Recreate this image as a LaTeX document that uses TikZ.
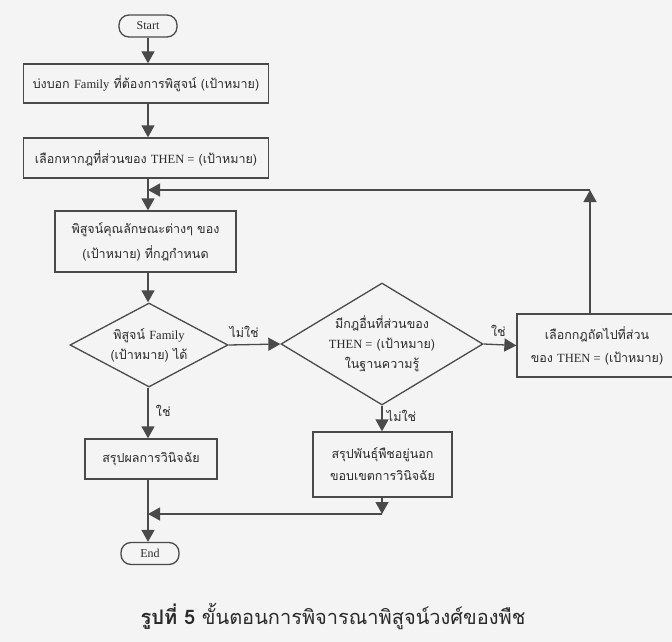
\documentclass[tikz,border=0pt]{standalone}
\usepackage{fontspec}
\setmainfont{Liberation Serif}
\newfontfamily\thai[Script=Thai]{Loma}
\newfontfamily\lat{Liberation Serif}
\usetikzlibrary{arrows.meta,shapes.geometric}
\definecolor{ink}{HTML}{4A4A4A}
\definecolor{txt}{HTML}{2A2A2A}
\definecolor{paper}{HTML}{F4F4F4}
\begin{document}
\begin{tikzpicture}[x=1pt,y=-1pt,
  line width=1.3pt,
  boxnode/.style={draw=ink,rectangle,inner sep=0pt,align=center,text=txt,font=\thai\fontsize{12.5}{23}\selectfont},
  termnode/.style={draw=ink,rounded corners=10pt,inner sep=0pt,minimum width=58pt,minimum height=22pt,text=txt,font=\lat\fontsize{12}{14}\selectfont},
  decnode/.style={draw=ink,diamond,inner sep=0pt},
  dectext/.style={align=center,text=txt,font=\thai\fontsize{12.5}{20}\selectfont},
  arr/.style={draw=ink,-{Triangle[length=12pt,width=13pt]}},
  lbl/.style={text=txt,font=\thai\fontsize{12.5}{14}\selectfont}]
\useasboundingbox (0,0) rectangle (672,642);
\fill[paper] (0,0) rectangle (672,642);
\clip (0,0) rectangle (672,642);

\node[termnode] (start) at (148,26) {Start};
\node[boxnode,minimum width=245pt,minimum height=39pt] (b1) at (146,83.5) {บ่งบอก {\lat Family} ที่ต้องการพิสูจน์ (เป้าหมาย)};
\node[boxnode,minimum width=245pt,minimum height=40pt] (b2) at (146,158) {เลือกหากฎที่ส่วนของ {\lat THEN =} (เป้าหมาย)};
\node[boxnode,minimum width=181pt,minimum height=61pt,font=\thai\fontsize{12.5}{25}\selectfont] (b3) at (145.5,241.5) {พิสูจน์คุณลักษณะต่างๆ ของ\\(เป้าหมาย) ที่กฎกำหนด};
\node[decnode,minimum width=158pt,minimum height=84pt,label={[dectext]center:พิสูจน์ {\lat Family}\\(เป้าหมาย) ได้}] (d1) at (149,345) {};
\node[decnode,minimum width=202pt,minimum height=122pt,label={[dectext]center:มีกฎอื่นที่ส่วนของ\\{\lat THEN =} (เป้าหมาย)\\ในฐานความรู้}] (d2) at (382,344) {};
\node[boxnode,minimum width=160pt,minimum height=63pt] (b4) at (597,345.5) {เลือกกฎถัดไปที่ส่วน\\ของ {\lat THEN =} (เป้าหมาย)};
\node[boxnode,minimum width=139pt,minimum height=65pt,font=\thai\fontsize{12.5}{22}\selectfont] (b5) at (382.5,464.5) {สรุปพันธุ์พืชอยู่นอก\\ขอบเขตการวินิจฉัย};
\node[boxnode,minimum width=132pt,minimum height=40pt] (b6) at (151,459) {สรุปผลการวินิจฉัย};
\node[termnode] (end) at (150,553.5) {End};

\coordinate (m1) at (148,190);
\coordinate (loopc) at (590,190);
\coordinate (m2) at (148,514);
\coordinate (c5) at (382,514);

\draw[arr] (start.south -| 148,0) -- (b1.north -| 148,0);
\draw[arr] (b1.south -| 148,0) -- (b2.north -| 148,0);
\draw[arr] (b2.south -| 148,0) -- (b3.north -| 148,0);
\draw[arr] (b3.south -| 148,0) -- (d1.north -| 148,0);
\draw[arr] (d1.east) -- node[lbl,above=3pt,pos=0.3] {ไม่ใช่} (d2.west);
\draw[arr] (d2.east) -- node[lbl,above=4pt,pos=0.45] {ใช่} (b4.west);
\draw[arr] (b4.north -| loopc) -- (loopc);
\draw[arr] (loopc) -- (m1);
\draw[arr] (d1.south -| 148,0) -- node[lbl,right=4pt,pos=0.45] {ใช่} (b6.north -| 148,0);
\draw[arr] (d2.south) -- node[lbl,right=1pt,pos=0.4] {ไม่ใช่} (b5.north -| 382,0);
\draw[arr] (b5.south -| c5) -- (c5);
\draw[arr] (c5) -- (m2);
\draw[arr] (b6.south -| 148,0) -- (end.north -| 148,0);

\node[text=txt,font=\thai\fontsize{20}{24}\selectfont] (cap) at (333,617) {{\bfseries รูปที่ 5} ขั้นตอนการพิจารณาพิสูจน์วงศ์ของพืช};
\end{tikzpicture}
\end{document}
